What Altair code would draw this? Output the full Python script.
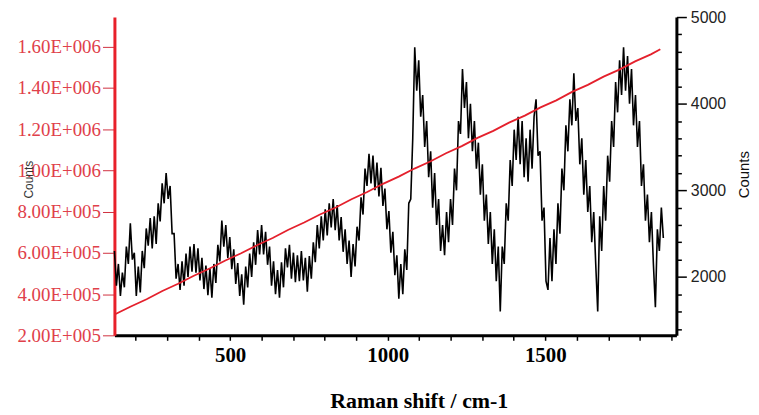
import altair as alt
import pandas as pd

# Raman spectrum (black, right axis): evenly sampled from 133 cm-1
shift_start = 133.0
shift_step = 6.31
spectrum_counts = [
    2300, 1900, 2150, 1780, 2050,
    1880, 2350, 2150, 2620, 2200,
    2280, 1780, 2120, 1820, 2300,
    2100, 2560, 2360, 2680, 2330,
    2700, 2380, 2850, 2640, 3080,
    2850, 3200, 2900, 3050, 2500,
    2500, 1980, 2150, 1850, 2180,
    1900, 2270, 2000, 2350, 2060,
    2380, 2050, 2330, 1960, 2220,
    1860, 2130, 1790, 2100, 1760,
    2150, 1930, 2370, 2180, 2650,
    2350, 2600, 2220, 2460, 2090,
    2320, 1920, 2160, 1780, 2030,
    1680, 2120, 1880, 2270, 2000,
    2400, 2140, 2540, 2260, 2600,
    2260, 2520, 2140, 2350, 1900,
    2180, 1800, 2080, 1760, 2170,
    1880, 2330, 2110, 2370, 1980,
    2280, 1940, 2250, 1950, 2300,
    1960, 2220, 1830, 2240, 1980,
    2400, 2170, 2600, 2330, 2700,
    2420, 2780, 2480, 2850, 2570,
    2900, 2540, 2830, 2420, 2690,
    2290, 2550, 2150, 2420, 2000,
    2380, 2120, 2580, 2420, 2920,
    2720, 3250, 3050, 3420, 3080,
    3400, 3000, 3320, 2930, 3260,
    2820, 3020, 2550, 2760, 2280,
    2520, 2020, 2250, 1750, 2150,
    1800, 2320, 2080, 2850, 2900,
    3600, 4650, 4150, 4500, 3850,
    4100, 3500, 3800, 3150, 3450,
    2800, 3200, 2600, 2900, 2300,
    2600, 2250, 2750, 2400, 2900,
    2600, 3250, 3000, 3800, 3650,
    4400, 3950, 4250, 3600, 4000,
    3450, 3800, 3250, 3550, 2950,
    3300, 2650, 2950, 2380, 2750,
    2150, 2550, 1950, 2350, 1600,
    2350, 2150, 2850, 2650, 3350,
    3050, 3700, 3350, 3850, 3300,
    3800, 3150, 3600, 3100, 3700,
    3250, 3850, 4050, 3400, 3450,
    2650, 2800, 1950, 1850, 2450,
    1950, 2550, 2150, 2850, 2500,
    3250, 3000, 3750, 3450, 4050,
    3750, 4350, 3800, 3950, 3300,
    3600, 2950, 3350, 2750, 3050,
    2400, 2750, 2150, 1600, 2700,
    2300, 3050, 2650, 3400, 3100,
    3800, 3500, 4250, 3900, 4500,
    4100, 4650, 4150, 4550, 4000,
    4400, 3750, 4100, 3500, 3800,
    3050, 3300, 2650, 2950, 2400,
    2750, 2150, 1650, 2550, 2300,
    2800, 2450,
]

# Red trace (left axis)
red_shift = [135, 185, 235, 285, 335, 385, 435, 485, 535, 585, 635, 685,
             735, 785, 835, 885, 935, 985, 1035, 1085, 1135, 1185, 1235,
             1285, 1335, 1385, 1435, 1485, 1535, 1585, 1635, 1685, 1735,
             1785, 1835, 1865]
red_counts = [302000, 340000, 375000, 415000, 450000, 489000, 524000, 563000,
              598000, 637000, 672000, 712000, 747000, 786000, 820000, 860000,
              895000, 935000, 970000, 1009000, 1043000, 1083000, 1118000,
              1158000, 1192000, 1232000, 1266000, 1306000, 1340000, 1381000,
              1415000, 1455000, 1489000, 1529000, 1563000, 1588000]

x_ticks = list(range(200, 2000, 100))
left_ticks = [200000, 400000, 600000, 800000, 1000000, 1200000, 1400000, 1600000]
right_ticks = list(range(1400, 5001, 200))

spec = pd.DataFrame({
    "shift": [shift_start + i * shift_step for i in range(len(spectrum_counts))],
    "counts": spectrum_counts,
})
red = pd.DataFrame({"shift": red_shift, "counts": red_counts})

x_axis = alt.Axis(
    values=x_ticks,
    labelExpr="datum.value % 500 === 0 ? datum.value : ''",
    domainColor="black", domainWidth=3,
    tickColor="black", tickSize=5, tickWidth=1.5,
    labelFont="Liberation Serif", labelFontWeight="bold", labelFontSize=21,
    labelColor="black", labelPadding=4, labelOverlap=False, labelFlush=False,
    title="Raman shift / cm-1", titleFont="Liberation Serif", titleFontSize=22,
    titleFontWeight="bold", titleColor="black",
    titleX=306, titleY=66, titleBaseline="middle", titleAlign="center",
    grid=False,
)
x_enc = alt.X("shift:Q", scale=alt.Scale(domain=[133, 1916], nice=False, zero=False), axis=x_axis)

black = alt.Chart(spec).mark_line(color="black", strokeWidth=1.6).encode(
    x=x_enc,
    y=alt.Y("counts:Q",
            scale=alt.Scale(domain=[1326, 5000], nice=False, zero=False),
            axis=alt.Axis(
                orient="right", values=right_ticks,
                labelExpr="datum.value % 1000 === 0 ? datum.value : ''",
                domainColor="black", domainWidth=3,
                tickColor="black", tickWidth=1.5,
                tickSize={"condition": {"test": "datum.value % 1000 === 0", "value": 10}, "value": 5},
                labelFont="Liberation Sans", labelFontSize=16, labelColor="#222222",
                labelPadding=4, labelOverlap=False,
                title="Counts", titleFont="Liberation Sans", titleFontSize=15,
                titleFontWeight="normal", titleColor="#111111",
                titleAngle=270, titleX=67, titleY=158,
                titleAlign="center", titleBaseline="middle",
                grid=False,
            )),
)

redline = alt.Chart(red).mark_line(color="#e4202c", strokeWidth=1.8).encode(
    x=x_enc,
    y=alt.Y("counts:Q",
            scale=alt.Scale(domain=[200000, 1744000], nice=False, zero=False),
            axis=alt.Axis(
                orient="left", values=left_ticks,
                labelExpr="datum.value >= 1000000 ? format(datum.value/1000000, '.2f') + 'E+006' : format(datum.value/100000, '.2f') + 'E+005'",
                domainColor="#e8202a", domainWidth=3,
                tickColor="#d03040", tickSize=12, tickWidth=1,
                labelFont="Liberation Serif", labelFontSize=19, labelColor="#e0404a",
                labelPadding=2, labelOverlap=False,
                title="Counts", titleFont="Liberation Sans", titleFontSize=12,
                titleFontWeight="normal", titleColor="#333333",
                titleAngle=270, titleX=-86, titleY=163,
                titleAlign="center", titleBaseline="middle",
                grid=False,
            )),
)

chart = alt.layer(black, redline).resolve_scale(y="independent").properties(
    width=565, height=320,
    padding={"left": 8, "top": 0, "right": 0, "bottom": 0},
    background="white",
).configure_view(strokeWidth=0)

chart.save("out.html", embed_options={"renderer": "svg", "actions": False})
